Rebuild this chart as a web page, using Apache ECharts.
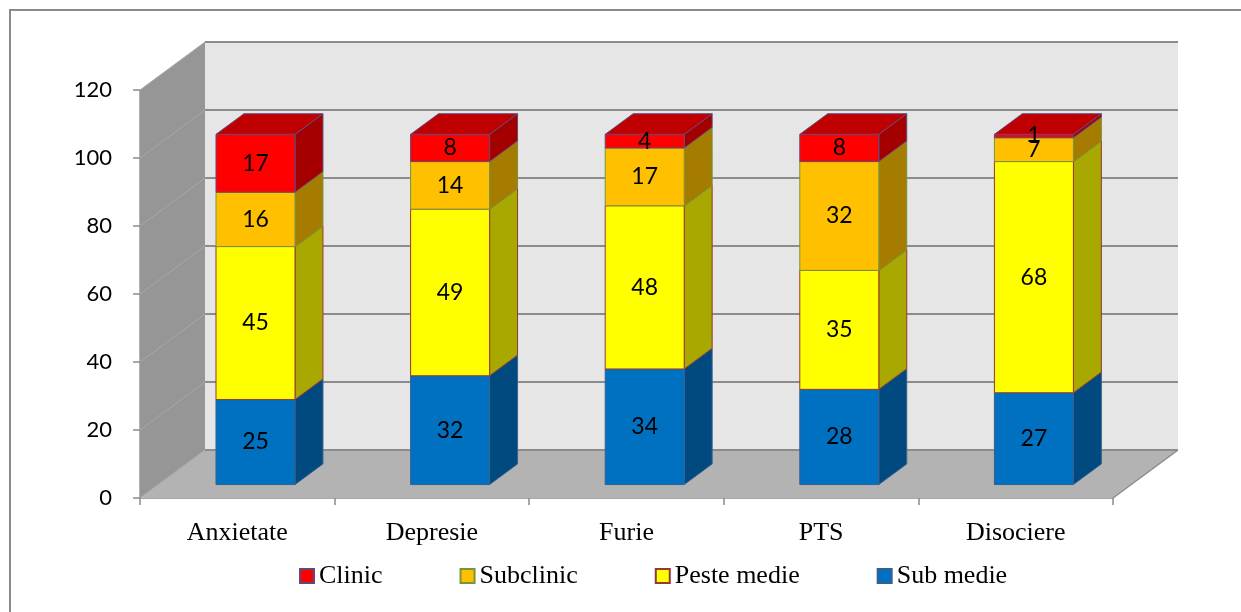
<!DOCTYPE html>
<html>
<head>
<meta charset="utf-8">
<script src="https://cdn.jsdelivr.net/npm/echarts@6/dist/echarts.min.js"></script>
<style>
  html, body { margin: 0; padding: 0; background: #ffffff; }
  #chart { width: 1241px; height: 612px; }
</style>
</head>
<body>
<div id="chart"></div>
<script>
// Categories and stacked values (bottom to top)
const categories = ['Anxietate', 'Depresie', 'Furie', 'PTS', 'Disociere'];
const subMedie   = [25, 32, 34, 28, 27];
const pesteMedie = [45, 49, 48, 35, 68];
const subclinic  = [16, 14, 17, 32, 7];
const clinic     = [17, 8, 4, 8, 1];
const yTicks     = [0, 20, 40, 60, 80, 100, 120];

const seriesNames  = ['Sub medie', 'Peste medie', 'Subclinic', 'Clinic'];
const seriesValues = [subMedie, pesteMedie, subclinic, clinic];
const legendOrder  = ['Clinic', 'Subclinic', 'Peste medie', 'Sub medie'];

// Oblique projection of the depth axis (pixels from front plane to back wall)
const DEPTH = [65, -48];
const BAR_FRONT = 0.28;   // bar front face, as fraction of the depth
const BAR_BACK = 0.71;    // bar back face, as fraction of the depth
const BAR_WIDTH = 0.406;  // share of the category band

const palette = {
  'Sub medie':   { front: '#0070C0', side: '#004A7F', top: '#005A99', edge: '#3A5F8E' },
  'Peste medie': { front: '#FFFF00', side: '#A8A800', top: '#CCCC00', edge: '#953735' },
  'Subclinic':   { front: '#FFC000', side: '#A67C00', top: '#CC9A00', edge: '#77933C' },
  'Clinic':      { front: '#FF0000', side: '#A50000', top: '#C00000', edge: '#604A7B' }
};

const yMax = yTicks[yTicks.length - 1];

// Cumulative base of each stacked segment
function baseOf(s, i) {
  let b = 0;
  for (let k = 0; k < s; k++) b += seriesValues[k][i];
  return b;
}

function renderWalls(params, api) {
  const cs = params.coordSys;
  const xl = cs.x, xr = cs.x + cs.width;
  const y0 = api.coord([0, 0])[1];
  const yT = api.coord([0, yMax])[1];
  const dx = DEPTH[0], dy = DEPTH[1];
  return {
    type: 'group',
    children: [
      { type: 'polygon', shape: { points: [[xl, y0], [xl, yT], [xl + dx, yT + dy], [xl + dx, y0 + dy]] },
        style: { fill: '#969696', stroke: null } },
      { type: 'polygon', shape: { points: [[xl + dx, yT + dy], [xr + dx, yT + dy], [xr + dx, y0 + dy], [xl + dx, y0 + dy]] },
        style: { fill: '#E6E6E6', stroke: null } },
      { type: 'polygon', shape: { points: [[xl, y0], [xr, y0], [xr + dx, y0 + dy], [xl + dx, y0 + dy]] },
        style: { fill: '#B3B3B3', stroke: null } },
      { type: 'line', shape: { x1: xr, y1: y0, x2: xr + dx, y2: y0 + dy },
        style: { stroke: '#8C8C8C', lineWidth: 1.5 } }
    ]
  };
}

function renderGridLine(params, api) {
  const cs = params.coordSys;
  const xl = cs.x, xr = cs.x + cs.width;
  const y = api.coord([0, api.value(1)])[1];
  const dx = DEPTH[0], dy = DEPTH[1];
  return {
    type: 'group',
    children: [
      { type: 'line', shape: { x1: xl, y1: y, x2: xl + dx, y2: y + dy },
        style: { stroke: '#A8A8A8', lineWidth: 1 } },
      { type: 'line', shape: { x1: xl + dx, y1: y + dy, x2: xr + dx, y2: y + dy },
        style: { stroke: '#8C8C8C', lineWidth: 2 } }
    ]
  };
}

function barGeometry(api) {
  const i = api.value(0), base = api.value(1), v = api.value(2);
  const bw = api.size([1, 0])[0];
  const pb = api.coord([i, base]);
  const pt = api.coord([i, base + v]);
  const fx = DEPTH[0] * BAR_FRONT, fy = DEPTH[1] * BAR_FRONT;
  const w = bw * BAR_WIDTH;
  const xl = pb[0] + fx - w / 2;
  return { xl: xl, xr: xl + w, yb: pb[1] + fy, yt: pt[1] + fy, v: v };
}

function makeBarRenderer(name, isTop) {
  const c = palette[name];
  const sx = DEPTH[0] * (BAR_BACK - BAR_FRONT);
  const sy = DEPTH[1] * (BAR_BACK - BAR_FRONT);
  return function (params, api) {
    const g = barGeometry(api);
    const children = [
      { type: 'polygon',
        shape: { points: [[g.xr, g.yb], [g.xr + sx, g.yb + sy], [g.xr + sx, g.yt + sy], [g.xr, g.yt]] },
        style: { fill: c.side, stroke: c.edge, lineWidth: 1 } }
    ];
    if (isTop) {
      children.push({ type: 'polygon',
        shape: { points: [[g.xl, g.yt], [g.xr, g.yt], [g.xr + sx, g.yt + sy], [g.xl + sx, g.yt + sy]] },
        style: { fill: c.top, stroke: c.edge, lineWidth: 1 } });
    }
    children.push({ type: 'rect',
      shape: { x: g.xl, y: g.yt, width: g.xr - g.xl, height: g.yb - g.yt },
      style: { fill: c.front, stroke: c.edge, lineWidth: 1 } });
    return { type: 'group', children: children };
  };
}

function renderLabel(params, api) {
  const g = barGeometry(api);
  return {
    type: 'text',
    style: {
      text: String(g.v),
      x: (g.xl + g.xr) / 2,
      y: (g.yb + g.yt) / 2,
      align: 'center',
      verticalAlign: 'middle',
      fontFamily: 'Lato',
      fontSize: 23,
      fill: '#000000'
    }
  };
}

const barSeries = seriesNames.map(function (name, s) {
  return {
    type: 'custom',
    name: name,
    coordinateSystem: 'cartesian2d',
    z: 5 + s,
    clip: false,
    itemStyle: { color: palette[name].front },
    encode: { x: 0, y: 1 },
    data: categories.map(function (c, i) { return [i, baseOf(s, i), seriesValues[s][i]]; }),
    renderItem: makeBarRenderer(name, s === seriesNames.length - 1)
  };
});

const labelData = [];
seriesNames.forEach(function (name, s) {
  categories.forEach(function (c, i) { labelData.push([i, baseOf(s, i), seriesValues[s][i]]); });
});

const chart = echarts.init(document.getElementById('chart'), null, { renderer: 'canvas' });

chart.setOption({
  animation: false,
  backgroundColor: '#ffffff',
  graphic: [{
    // outer frame: only the top and left edges fall inside the page
    type: 'polyline', silent: true, z: -10,
    shape: { points: [[10, 800], [10, 10], [1400, 10]] },
    style: { fill: null, stroke: '#8A8A8A', lineWidth: 2 }
  }],
  grid: { left: 140, right: 128, top: 90, bottom: 114, containLabel: false },
  legend: {
    left: 299,
    top: 563,
    padding: 0,
    itemWidth: 14,
    itemHeight: 14,
    itemGap: 77,
    textStyle: { fontFamily: 'Liberation Serif', fontSize: 26, color: '#000000' },
    data: legendOrder.map(function (n) {
      return { name: n, icon: 'rect',
        itemStyle: { color: palette[n].front, borderColor: palette[n].edge, borderWidth: 2 } };
    })
  },
  xAxis: {
    type: 'category',
    data: categories,
    boundaryGap: true,
    axisLine: { show: true, lineStyle: { color: '#8C8C8C', width: 1.5 } },
    axisTick: { show: true, length: 7, lineStyle: { color: '#8C8C8C', width: 1.5 } },
    axisLabel: { margin: 22, fontFamily: 'Liberation Serif', fontSize: 26, color: '#000000' },
    splitLine: { show: false }
  },
  yAxis: {
    type: 'value',
    min: 0,
    max: yMax,
    interval: 20,
    axisLine: { show: true, lineStyle: { color: '#9A9A9A', width: 1.5 } },
    axisTick: { show: true, length: 7, lineStyle: { color: '#8C8C8C', width: 1.5 } },
    axisLabel: { margin: 28, fontFamily: 'Lato', fontSize: 22, color: '#000000' },
    splitLine: { show: false }
  },
  series: [
    {
      type: 'custom', name: 'walls', coordinateSystem: 'cartesian2d', z: 1, clip: false,
      silent: true, encode: { x: 0, y: 1 },
      data: [[0, 0]],
      renderItem: renderWalls
    },
    {
      type: 'custom', name: 'gridlines', coordinateSystem: 'cartesian2d', z: 2, clip: false,
      silent: true, encode: { x: 0, y: 1 },
      data: yTicks.map(function (t) { return [0, t]; }),
      renderItem: renderGridLine
    }
  ].concat(barSeries).concat([
    {
      type: 'custom', name: 'labels', coordinateSystem: 'cartesian2d', z: 20, clip: false,
      silent: true, encode: { x: 0, y: 1 },
      data: labelData,
      renderItem: renderLabel
    }
  ])
});
</script>
</body>
</html>
